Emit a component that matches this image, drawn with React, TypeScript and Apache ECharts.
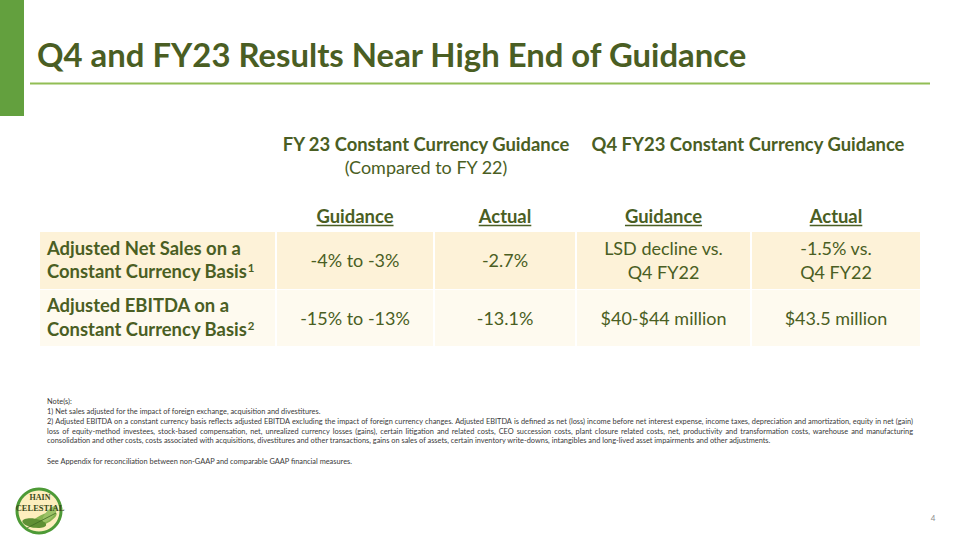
import React, { useEffect, useRef } from "react";
import * as echarts from "echarts";

// ---------- data ----------
const titleText = "Q4 and FY23 Results Near High End of Guidance";
const groupHeaders = ["FY 23 Constant Currency Guidance", "Q4 FY23 Constant Currency Guidance"];
const groupSubheader = "(Compared to FY 22)";
const columnHeaders = ["Guidance", "Actual", "Guidance", "Actual"];
const rowLabels = [
  ["Adjusted Net Sales on a", "Constant Currency Basis"],
  ["Adjusted EBITDA on a", "Constant Currency Basis"],
];
const footnoteMarks = ["1", "2"];
const fyGuidance = [["-4% to -3%"], ["-15% to -13%"]];
const fyActual = [["-2.7%"], ["-13.1%"]];
const q4Guidance = [["LSD decline vs.", "Q4 FY22"], ["$40-$44 million"]];
const q4Actual = [["-1.5% vs.", "Q4 FY22"], ["$43.5 million"]];
const noteLines = [
  "Note(s):",
  "1) Net sales adjusted for the impact of foreign exchange, acquisition and divestitures.",
  "2) Adjusted EBITDA on a constant currency basis reflects adjusted EBITDA excluding the impact of foreign currency changes. Adjusted EBITDA is defined as net (loss) income before net interest expense, income taxes, depreciation and amortization, equity in net (gain)",
  "loss of equity-method investees, stock-based compensation, net, unrealized currency losses (gains), certain litigation and related costs, CEO succession costs, plant closure related costs, net, productivity and transformation costs, warehouse and manufacturing",
  "consolidation and other costs, costs associated with acquisitions, divestitures and other transactions, gains on sales of assets, certain inventory write-downs, intangibles and long-lived asset impairments and other adjustments.",
  "",
  "See Appendix for reconciliation between non-GAAP and comparable GAAP financial measures.",
];
const justifiedNotes = [false, false, true, true, false, false, false];
const pageNumber = "4";

// ---------- style ----------
const FONT = "Lato";
const DARK = "#4a5e23";
const ROW_FILLS = ["#fdf2d8", "#fefaef"];

const canvas = typeof document !== "undefined" ? document.createElement("canvas") : null;
const ctx = canvas ? canvas.getContext("2d") : null;
function tw(text: string, size: number, weight: string | number, family = FONT) {
  if (!ctx) return text.length * size * 0.5;
  ctx.font = `${weight} ${size}px ${family}`;
  return ctx.measureText(text).width;
}
function fit(text: string, weight: string | number, target: number) {
  return (100 * target) / tw(text, 100, weight);
}

function txt(text: string, x: number, y: number, size: number, weight: string | number, fill: string, align = "left", extra: any = {}) {
  return {
    type: "text",
    x,
    y,
    silent: true,
    style: {
      text,
      fill,
      fontSize: size,
      fontWeight: weight,
      fontFamily: extra.family || FONT,
      align,
      textAlign: align,
      verticalAlign: "middle",
      textVerticalAlign: "middle",
    },
  };
}

function buildOption() {
  const els: any[] = [];
  // left accent bar
  els.push({ type: "rect", shape: { x: 0, y: 0, width: 24, height: 116 }, style: { fill: "#63a03e" } });
  // title
  const titleSize = fit(titleText, "bold", 711);
  els.push(txt(titleText, 37, 54, titleSize, "bold", DARK));
  els.push({ type: "line", shape: { x1: 30, y1: 83.5, x2: 930, y2: 83.5 }, style: { stroke: "#92be55", lineWidth: 2 } });

  const boldSize = fit(rowLabels[0][0], "bold", 194);
  const regSize = fit(q4Guidance[1][0], "normal", 126);

  // group headers
  els.push(txt(groupHeaders[0], 426, 144, boldSize, "bold", DARK, "center"));
  els.push(txt(groupSubheader, 426, 167, regSize, "normal", DARK, "center"));
  els.push(txt(groupHeaders[1], 748, 144, boldSize, "bold", DARK, "center"));

  // columns
  const cols = [
    { x: 40, w: 235 },
    { x: 277, w: 156 },
    { x: 435, w: 140 },
    { x: 577, w: 173 },
    { x: 752, w: 168 },
  ];
  const rows = [
    { y: 232, h: 57 },
    { y: 290, h: 56 },
  ];

  // column headers underlined
  columnHeaders.forEach((h, i) => {
    const c = cols[i + 1];
    const cx = c.x + c.w / 2;
    els.push(txt(h, cx, 216, boldSize, "bold", DARK, "center"));
    const w = tw(h, boldSize, "bold");
    els.push({ type: "line", shape: { x1: cx - w / 2, y1: 225.5, x2: cx + w / 2, y2: 225.5 }, style: { stroke: DARK, lineWidth: 1.3 } });
  });

  // cells
  const valueCols = [fyGuidance, fyActual, q4Guidance, q4Actual];
  rows.forEach((r, ri) => {
    cols.forEach((c) => {
      els.push({ type: "rect", shape: { x: c.x, y: r.y, width: c.w, height: r.h }, style: { fill: ROW_FILLS[ri] } });
    });
    const cy = r.y + r.h / 2 - 0.5;
    const lab = rowLabels[ri];
    els.push(txt(lab[0], 47, cy - 12.5, boldSize, "bold", DARK));
    els.push(txt(lab[1], 47, cy + 11, boldSize, "bold", DARK));
    const lw = tw(lab[1], boldSize, "bold");
    els.push(txt(footnoteMarks[ri], 47 + lw + 0.5, cy + 7.5, boldSize * 0.62, "bold", DARK));
    valueCols.forEach((vals, vi) => {
      const c = cols[vi + 1];
      const lines = vals[ri];
      const cx = c.x + c.w / 2;
      if (lines.length === 1) {
        els.push(txt(lines[0], cx, cy, regSize, "normal", DARK, "center"));
      } else {
        els.push(txt(lines[0], cx, cy - 12, regSize, "normal", DARK, "center"));
        els.push(txt(lines[1], cx, cy + 12, regSize, "normal", DARK, "center"));
      }
    });
  });

  // notes
  const noteSize = fit(noteLines[6], "normal", 306);
  const noteY = [401.5, 411.5, 421.5, 431, 440.5, 451, 461];
  const NOTE_L = 47;
  const NOTE_R = 913;
  const noteColor = "#3a3a3a";
  noteLines.forEach((line, i) => {
    if (!line) return;
    if (!justifiedNotes[i]) {
      els.push(txt(line, NOTE_L, noteY[i], noteSize, "normal", noteColor));
    } else {
      const words = line.split(" ");
      const widths = words.map((w) => tw(w, noteSize, "normal"));
      const total = widths.reduce((a, b) => a + b, 0);
      const gap = (NOTE_R - NOTE_L - total) / (words.length - 1);
      let x = NOTE_L;
      words.forEach((w, wi) => {
        els.push(txt(w, x, noteY[i], noteSize, "normal", noteColor));
        x += widths[wi] + gap;
      });
    }
  });

  // page number
  els.push(txt(pageNumber, 933, 518, 8, "normal", "#8c8c8c", "center"));

  // logo
  const lx = 39, ly = 511;
  els.push({ type: "circle", shape: { cx: lx, cy: ly, r: 21 }, style: { fill: "#fdeebd" } });
  els.push({ type: "ellipse", shape: { cx: lx + 4, cy: ly + 9, rx: 15, ry: 5 }, rotation: 0.45, originX: lx + 4, originY: ly + 9, style: { fill: "#86b34f" } });
  els.push({ type: "ellipse", shape: { cx: lx - 5, cy: ly + 12, rx: 12, ry: 4.5 }, rotation: -0.15, originX: lx - 5, originY: ly + 12, style: { fill: "#5f9034" } });
  els.push({ type: "ellipse", shape: { cx: lx + 11, cy: ly + 3, rx: 10, ry: 4 }, rotation: 0.85, originX: lx + 11, originY: ly + 3, style: { fill: "#9cc266" } });
  els.push({ type: "line", shape: { x1: lx - 12, y1: ly + 17, x2: lx + 17, y2: ly + 2 }, style: { stroke: "#3f6a22", lineWidth: 0.8 } });
  els.push({ type: "ring", shape: { cx: lx, cy: ly, r: 23.5, r0: 20.5 }, style: { fill: "#4d9a36" } });
  els.push({ type: "rect", shape: { x: lx - 25, y: ly - 7, width: 51, height: 8 }, style: { fill: "rgba(255,255,255,0.0)" } });
  els.push(txt("HAIN", lx + 1, ly - 14, 8, "bold", "#3b4a1a", "center", { family: "Liberation Serif" }));
  els.push(txt("CELESTIAL", lx + 1, ly - 3.5, 8.5, "bold", "#3b4a1a", "center", { family: "Liberation Serif" }));

  return {
    animation: false,
    backgroundColor: "#ffffff",
    graphic: { elements: els },
  };
}

export default function App() {
  const ref = useRef<HTMLDivElement>(null);
  useEffect(() => {
    if (!ref.current) return;
    const chart = echarts.init(ref.current, undefined, { renderer: "svg" });
    chart.setOption(buildOption() as any);
    return () => chart.dispose();
  }, []);
  return <div ref={ref} style={{ position: "fixed", left: 0, top: 0, width: 960, height: 540, background: "#fff" }} />;
}
